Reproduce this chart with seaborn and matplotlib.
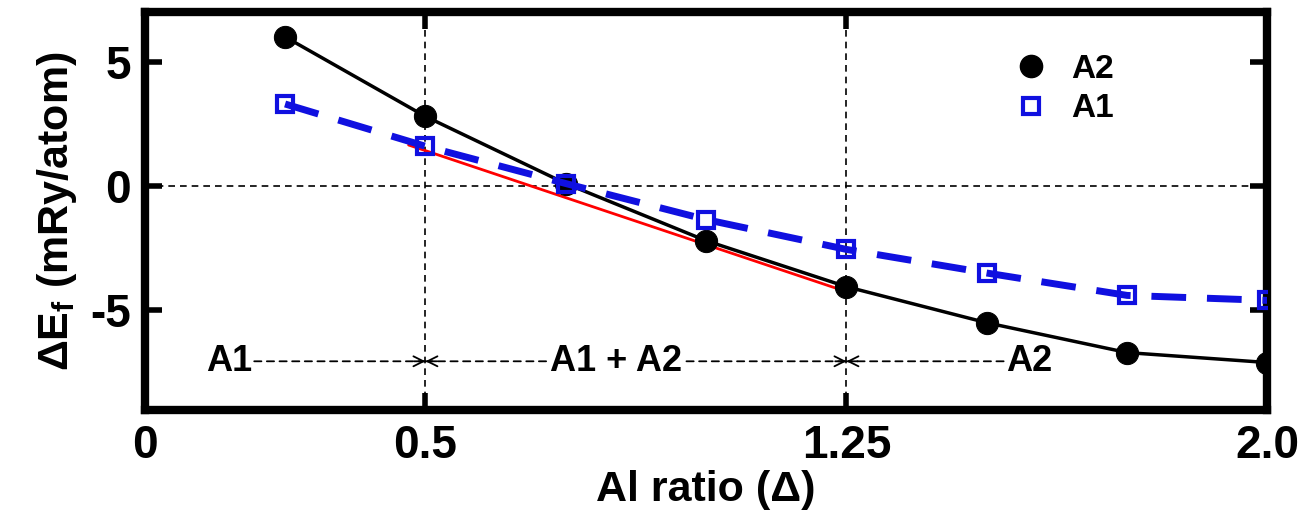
import numpy as np
import pandas as pd
import matplotlib
matplotlib.use("Agg")
import matplotlib.pyplot as plt
from matplotlib.lines import Line2D
import seaborn as sns

# data
al_ratio = [0.25, 0.5, 0.75, 1.0, 1.25, 1.5, 1.75, 2.0]
ef_a2 = [6.0, 2.8, 0.1, -2.2, -4.05, -5.5, -6.7, -7.1]
ef_a1 = [3.3, 1.6, 0.1, -1.35, -2.55, -3.5, -4.4, -4.6]
tangent_x = [0.47, 1.25]
tangent_y = [1.65, -4.25]
xticks = [0, 0.5, 1.25, 2.0]
xtick_labels = ["0", "0.5", "1.25", "2.0"]
yticks = [-5, 0, 5]

df = pd.DataFrame({"ratio": al_ratio, "A2": ef_a2, "A1": ef_a1})

sns.set_style("ticks")
plt.rcParams["font.family"] = ["Liberation Sans", "DejaVu Sans"]
plt.rcParams["font.weight"] = "bold"
plt.rcParams["axes.unicode_minus"] = False
plt.rcParams["mathtext.fontset"] = "custom"
plt.rcParams["mathtext.rm"] = "Liberation Sans:bold"
plt.rcParams["mathtext.bf"] = "Liberation Sans:bold"
plt.rcParams["mathtext.default"] = "bf"
for key in ["text.color", "axes.labelcolor", "xtick.color", "ytick.color",
            "axes.edgecolor"]:
    plt.rcParams[key] = "black"

fig = plt.figure(figsize=(13.04, 5.22), dpi=100)
ax = fig.add_axes([0.111, 0.215, 0.861, 0.762])

# reference lines
ax.axhline(0, color="black", lw=1.2, ls=(0, (4, 3)), zorder=1)
for xv in [0.5, 1.25]:
    ax.axvline(xv, color="black", lw=1.2, ls=(0, (4, 3)), zorder=1)

# series
sns.lineplot(data=df, x="ratio", y="A2", ax=ax, color="black", lw=2.5,
             marker="o", markersize=16, markeredgecolor="black", zorder=3)
sns.lineplot(data=df, x="ratio", y="A1", ax=ax, color="#1010e0", lw=5,
             dashes=False, marker="s", markersize=12, markerfacecolor="none",
             markeredgecolor="#1010e0", markeredgewidth=3, zorder=4)
ax.lines[-1].set_linestyle((0, (5, 3)))
sns.lineplot(x=tangent_x, y=tangent_y, ax=ax, color="red", lw=2, zorder=2)

# phase region annotations
ann_y = -7.05
line_kw = dict(arrowstyle="-", ls=(0, (4, 3)), lw=1.3, color="black",
               shrinkA=0, shrinkB=0)
head_kw = dict(arrowstyle="->", lw=1.3, color="black", shrinkA=0, shrinkB=0,
               mutation_scale=18)
txt_kw = dict(fontsize=26, fontweight="bold", va="center", ha="center")


def dashed_arrow(x0, x1):
    ax.annotate("", xy=(x1, ann_y), xytext=(x0, ann_y), arrowprops=line_kw)
    step = 0.02 if x1 > x0 else -0.02
    ax.annotate("", xy=(x1, ann_y), xytext=(x1 - step, ann_y),
                arrowprops=head_kw)


ax.text(0.15, ann_y, "A1", **txt_kw)
dashed_arrow(0.195, 0.5)
ax.text(0.84, ann_y, "A1 + A2", **txt_kw)
dashed_arrow(0.715, 0.5)
dashed_arrow(0.965, 1.25)
ax.text(1.575, ann_y, "A2", **txt_kw)
dashed_arrow(1.53, 1.25)

ax.set_xlim(0, 2.0)
ax.set_ylim(-9, 7)
ax.set_xticks(xticks)
ax.set_xticklabels(xtick_labels)
ax.set_yticks(yticks)
ax.tick_params(direction="in", length=12, width=4, labelsize=33, pad=10,
               top=True, right=True)
for lab in ax.get_xticklabels() + ax.get_yticklabels():
    lab.set_fontweight("bold")
for sp in ax.spines.values():
    sp.set_linewidth(6)

ax.set_xlabel("Al ratio (Δ)", fontsize=31, fontweight="bold", labelpad=2)
ax.set_ylabel(r"$\Delta$E$_f$ (mRy/atom)", fontsize=31, fontweight="bold",
              labelpad=8)

handles = [
    Line2D([], [], ls="none", marker="o", markersize=16, color="black"),
    Line2D([], [], ls="none", marker="s", markersize=12,
           markerfacecolor="none", markeredgecolor="#1010e0",
           markeredgewidth=3),
]
ax.legend(handles, ["A2", "A1"], loc="upper right", bbox_to_anchor=(0.89, 0.97),
          frameon=False, prop={"size": 24, "weight": "bold"},
          handletextpad=0.2, labelspacing=0.25)

fig.savefig("out.png", dpi=100)
